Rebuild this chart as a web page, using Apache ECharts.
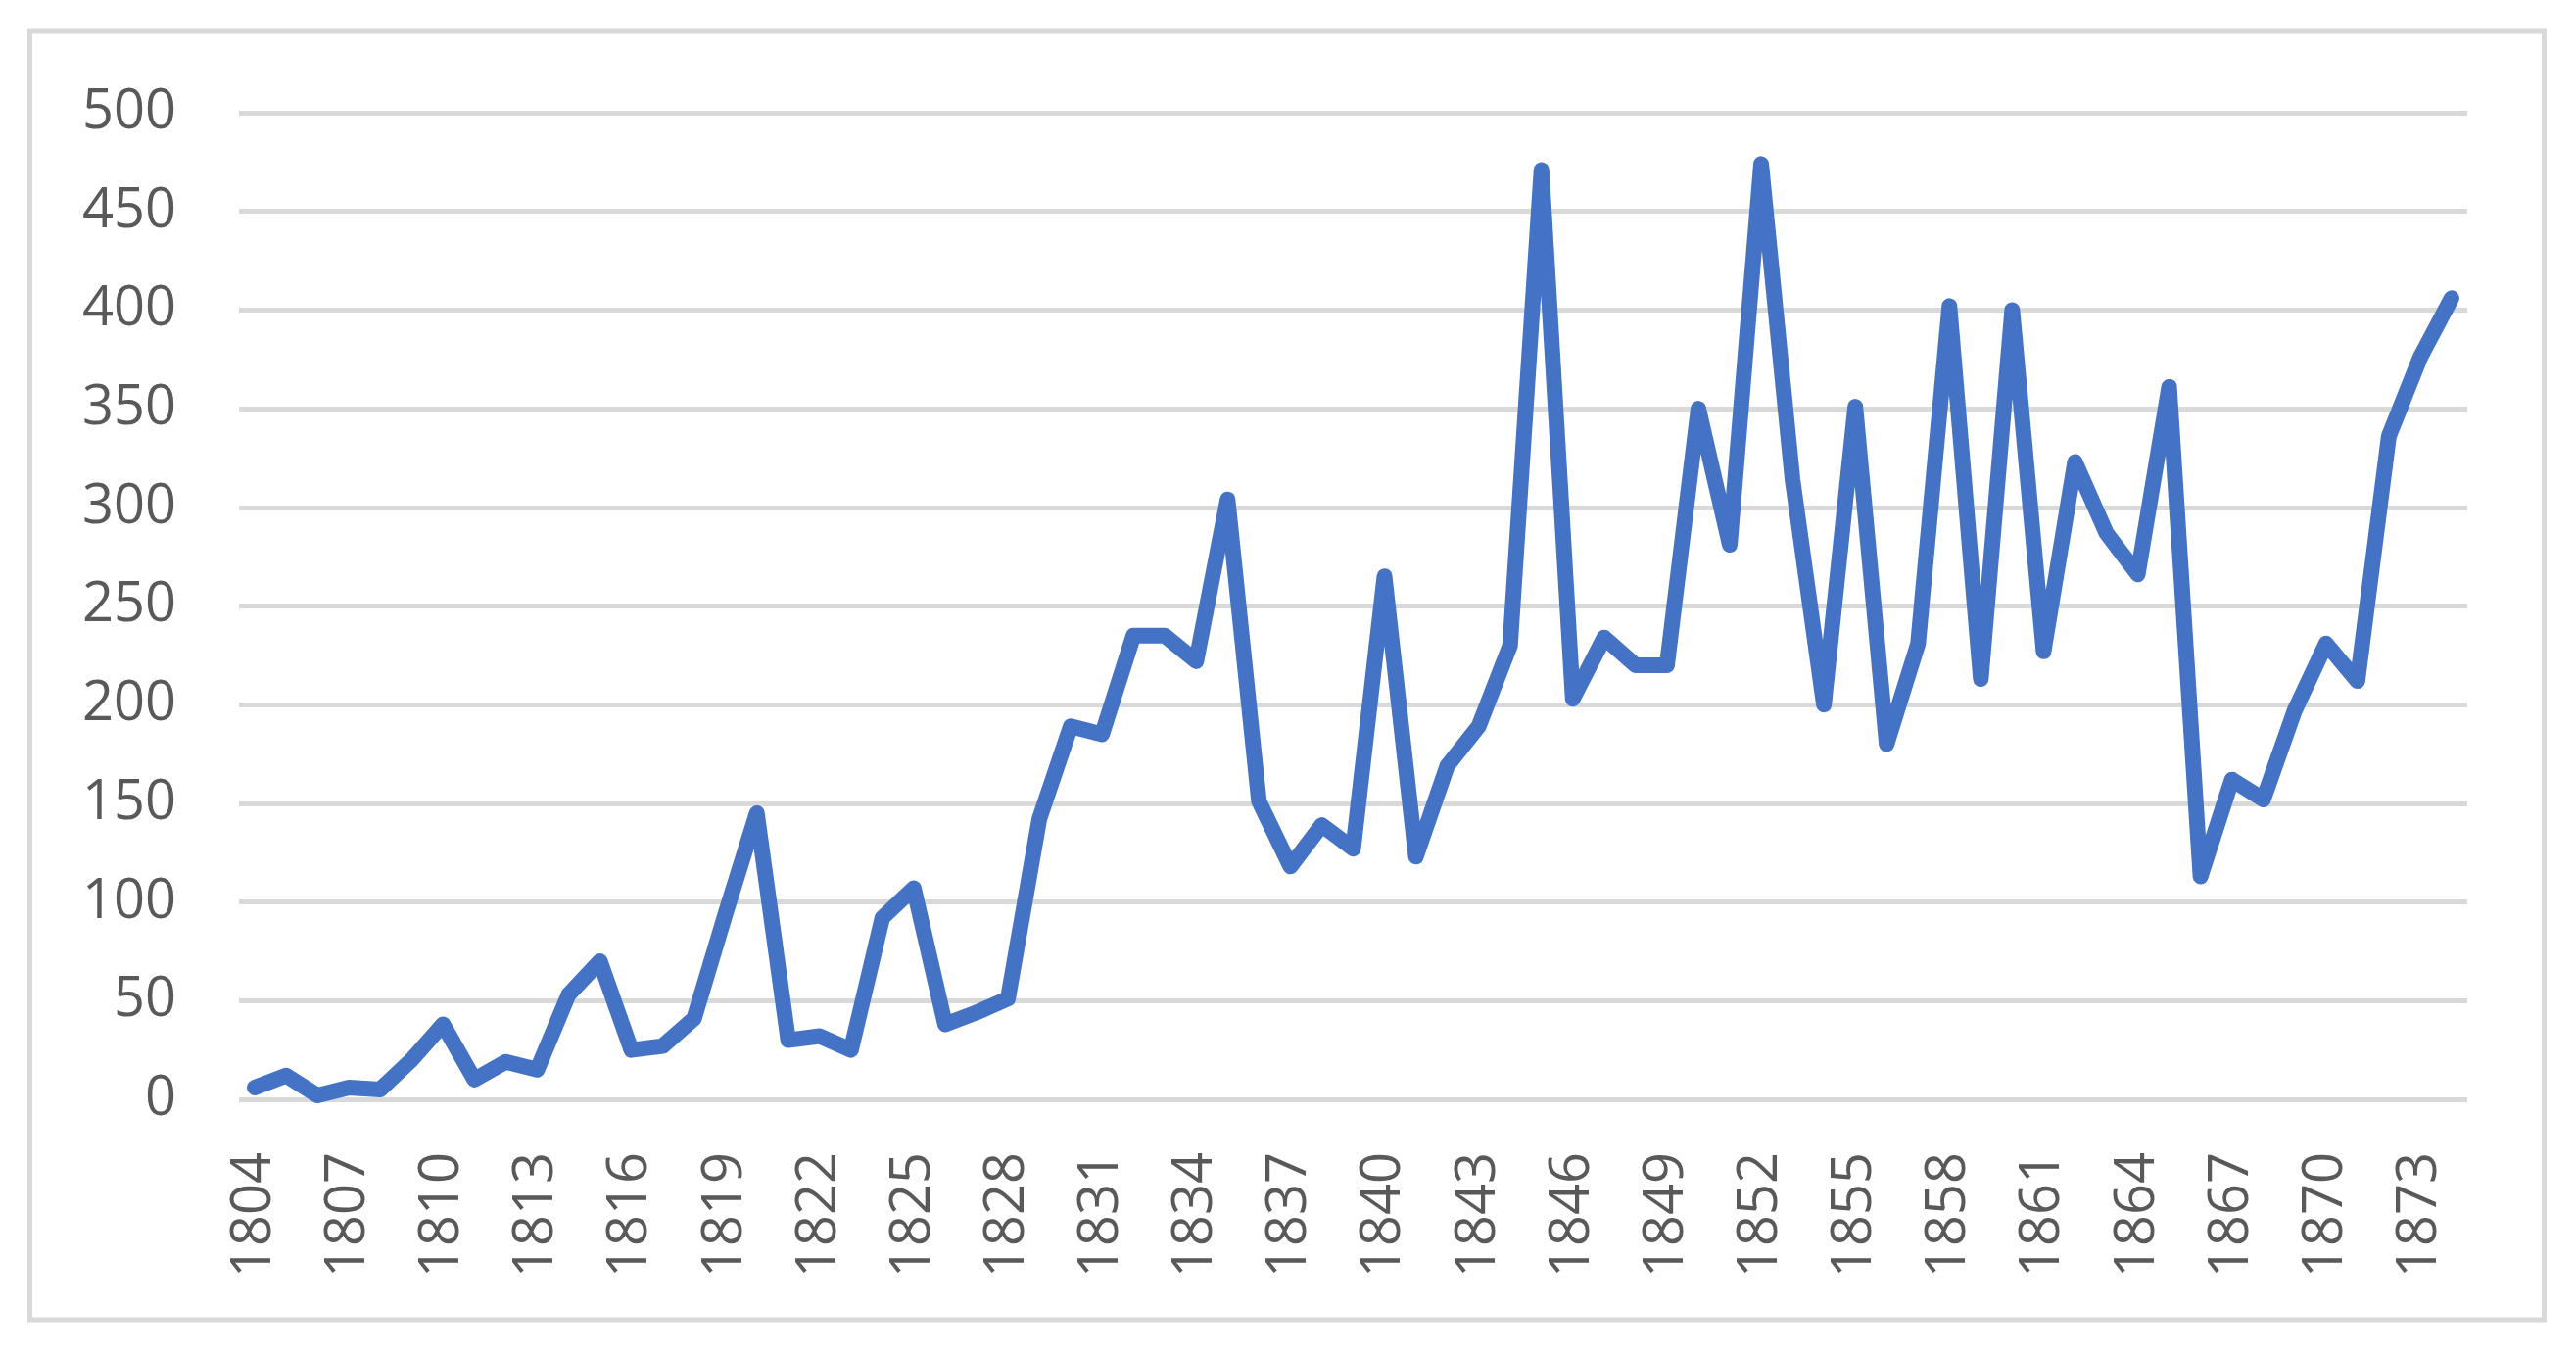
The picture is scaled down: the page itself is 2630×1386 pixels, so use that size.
<!DOCTYPE html>
<html>
<head>
<meta charset="utf-8">
<script src="https://cdn.jsdelivr.net/npm/echarts@6/dist/echarts.min.js"></script>
<style>
  html, body { margin: 0; padding: 0; background: #ffffff; }
  #chart { width: 2630px; height: 1386px; }
</style>
</head>
<body>
<div id="chart"></div>
<script>
const years = ['1804','1805','1806','1807','1808','1809','1810','1811','1812','1813',
  '1814','1815','1816','1817','1818','1819','1820','1821','1822','1823',
  '1824','1825','1826','1827','1828','1829','1830','1831','1832','1833',
  '1834','1835','1836','1837','1838','1839','1840','1841','1842','1843',
  '1844','1845','1846','1847','1848','1849','1850','1851','1852','1853',
  '1854','1855','1856','1857','1858','1859','1860','1861','1862','1863',
  '1864','1865','1866','1867','1868','1869','1870','1871','1872','1873','1874'];

const values = [6, 12, 2, 6, 5, 20, 38, 10, 19, 15,
  53, 70, 25, 27, 41, 94, 145, 30, 32, 25,
  92, 107, 38, 44, 51, 142, 189, 185, 235, 235,
  222, 304, 151, 118, 139, 127, 265, 123, 169, 189,
  230, 471, 203, 234, 220, 220, 350, 281, 474, 314,
  200, 351, 180, 231, 402, 213, 400, 227, 323, 287,
  266, 361, 113, 162, 152, 197, 231, 212, 336, 376, 406];

const yMin = 0, yMax = 500, yStep = 50;

const chart = echarts.init(document.getElementById('chart'), null, { renderer: 'canvas' });
chart.setOption({
  animation: false,
  backgroundColor: '#ffffff',
  graphic: [{
    type: 'rect',
    shape: { x: 30.5, y: 32, width: 2567, height: 1315 },
    style: { fill: 'none', stroke: '#d9d9d9', lineWidth: 5 },
    z: -1
  }],
  grid: { left: 244, right: 111, top: 115, bottom: 264, containLabel: false },
  xAxis: {
    type: 'category',
    data: years,
    boundaryGap: true,
    axisLine: { show: false },
    axisTick: { show: false },
    axisLabel: {
      interval: 2,
      rotate: 90,
      margin: 54,
      color: '#595959',
      fontFamily: 'Open Sans',
      fontSize: 56
    },
    splitLine: { show: false }
  },
  yAxis: {
    type: 'value',
    min: yMin,
    max: yMax,
    interval: yStep,
    axisLine: { show: false },
    axisTick: { show: false },
    axisLabel: {
      margin: 64,
      color: '#595959',
      fontFamily: 'Open Sans',
      fontSize: 56
    },
    splitLine: { lineStyle: { color: '#d9d9d9', width: 5 } }
  },
  series: [{
    type: 'line',
    data: values,
    showSymbol: false,
    symbol: 'none',
    lineStyle: { color: '#4472c4', width: 16, join: 'round', cap: 'round' }
  }]
});
</script>
</body>
</html>
